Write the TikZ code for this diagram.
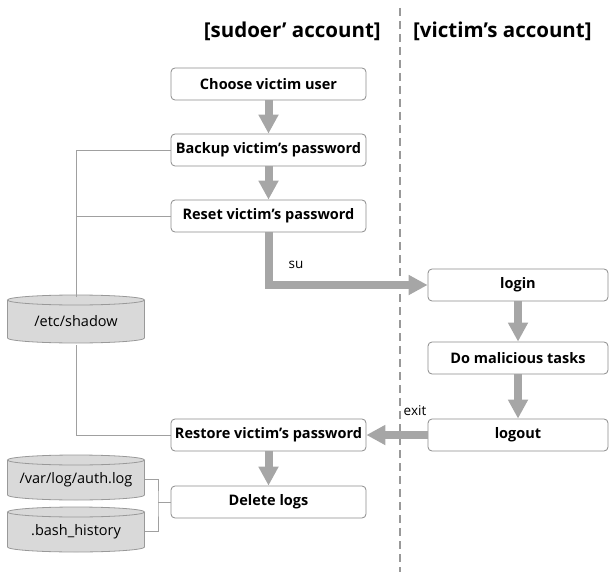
\documentclass[tikz,border=0pt]{standalone}
\usepackage{fontspec}
\setmainfont{Open Sans}
\usetikzlibrary{arrows.meta}

\definecolor{boxline}{HTML}{8C8C8C}
\definecolor{flowgray}{HTML}{A6A6A6}
\definecolor{thinline}{HTML}{A0A0A0}
\definecolor{drumgray}{HTML}{D9D9D9}
\definecolor{drumedge}{HTML}{999999}
\definecolor{dashgray}{HTML}{999999}

% storage drum: name, centre x, top ellipse y, bottom ellipse y, label
\newcommand\dbdrum[5]{%
  \fill[drumgray] (#2-68.5,#3) rectangle (#2+68.5,#4);
  \fill[drumgray] (#2,#4) ellipse [x radius=68.5, y radius=5];
  \draw[drumline] (#2-68.5,#3) -- (#2-68.5,#4)
    arc [start angle=180, end angle=0, x radius=68.5, y radius=5]
    -- (#2+68.5,#3);
  \filldraw[drumline, fill=drumgray] (#2,#3) ellipse [x radius=68.5, y radius=5];
  \node[drumtext, minimum height={#4-#3+10}] (#1) at (#2,{(#3+#4)/2+2}) {#5};
}

\begin{document}
\begin{tikzpicture}[x=1pt, y=-1pt,
  stepbox/.style={draw=boxline, line width=0.8pt, rounded corners=4pt, fill=white,
    minimum width=195pt, minimum height=32pt, inner sep=0pt,
    font=\bfseries\fontsize{14.5}{17}\selectfont},
  sidebox/.style={stepbox, minimum width=180pt},
  flow/.style={draw=flowgray, line width=8pt, -{Triangle[width=19pt,length=19pt]}},
  link/.style={draw=thinline, line width=0.9pt},
  drumline/.style={draw=drumedge, line width=0.8pt},
  drumtext/.style={minimum width=137pt, inner sep=0pt, font=\fontsize{14.5}{17}\selectfont},
  heading/.style={font=\bfseries\fontsize{20.5}{24}\selectfont, inner sep=0pt},
  tag/.style={font=\fontsize{13.5}{16}\selectfont, inner sep=0pt}]

\useasboundingbox (0,0) rectangle (610,572);

% column divider
\draw[dashgray, line width=2pt, dash pattern=on 8pt off 5pt] (400,8) -- (400,572);

% headings
\node[heading, anchor=east] (sudoerhead) at (381,31) {[sudoer’ account]};
\node[heading, anchor=west] (victimhead) at (413,31) {[victim’s account]};

% sudoer column
\node[stepbox] (choose)  at (268.5,84)  {Choose victim user};
\node[stepbox] (backup)  at (268.5,150) {Backup victim’s password};
\node[stepbox] (reset)   at (268.5,216) {Reset victim’s password};
\node[stepbox] (restore) at (268.5,435) {Restore victim’s password};
\node[stepbox] (delete)  at (268.5,502) {Delete logs};

% victim column
\node[sidebox] (login)     at (518,285) {login};
\node[sidebox] (malicious) at (518,358) {Do malicious tasks};
\node[sidebox] (logout)    at (518,435) {logout};

% links to the stored files
\dbdrum{shadow}{76}{300}{338}{/etc/shadow}
\dbdrum{authlog}{76}{460}{495}{/var/log/auth.log}
\dbdrum{bashhist}{76}{512}{547}{.bash\_history}

\draw[link] (backup.west) -| (shadow.north);
\draw[link] (reset.west) -- (reset.west -| shadow.north);
\draw[link] (restore.west) -| (shadow.south);
\coordinate (logjoin) at (158,502);
\draw[link] (authlog.east) -| (logjoin) |- (bashhist.east);
\draw[link] (logjoin) -- (delete.west);

% main flow
\draw[flow] (choose.south) -- (backup.north);
\draw[flow] (backup.south) -- (reset.north);
\draw[flow] (reset.south) |- (login.west);
\node[tag] (sulabel) at (296,265) {su};
\draw[flow] (login.south) -- (malicious.north);
\draw[flow] (malicious.south) -- (logout.north);
\draw[flow] (logout.west) -- (restore.east);
\node[tag] (exitlabel) at (415,411) {exit};
\draw[flow] (restore.south) -- (delete.north);

\end{tikzpicture}
\end{document}
